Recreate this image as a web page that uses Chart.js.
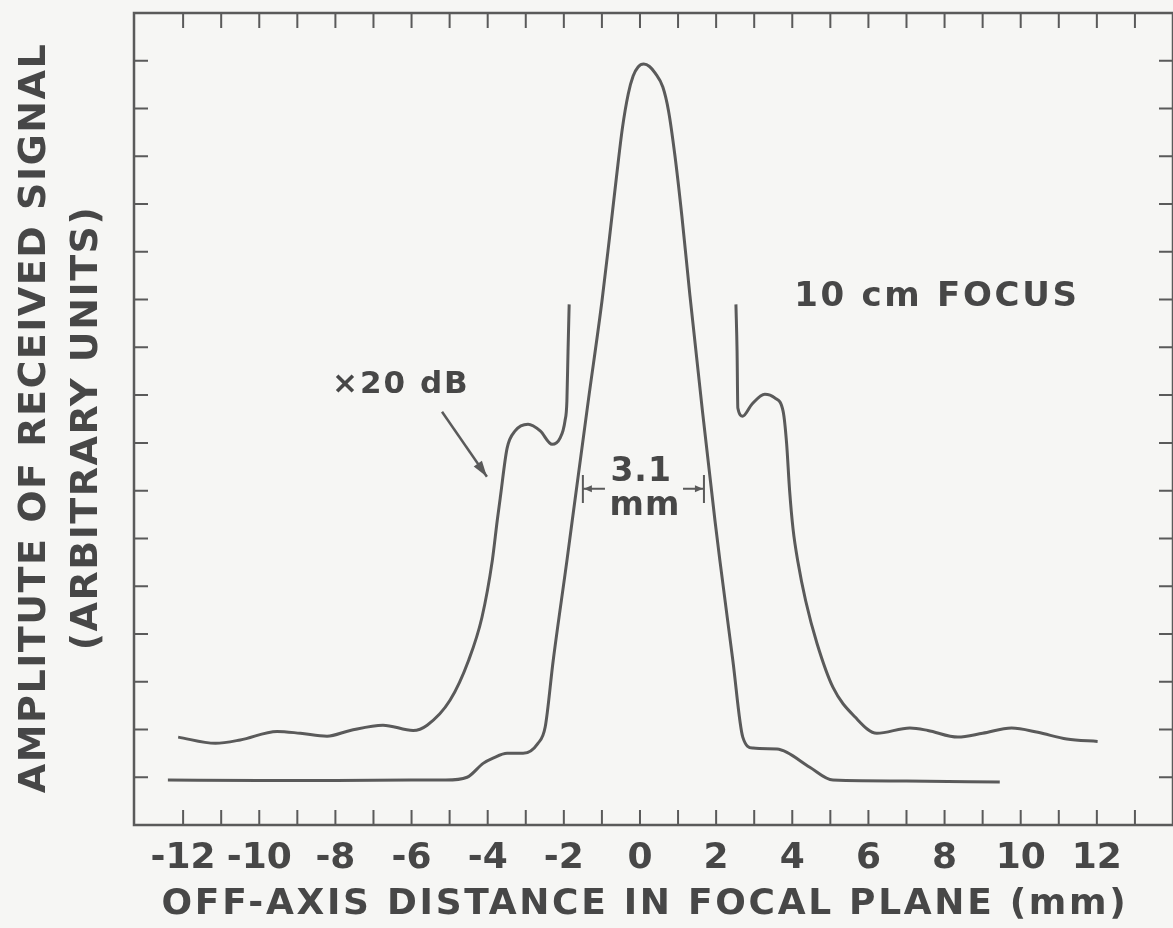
<!DOCTYPE html>
<html>
<head>
<meta charset="utf-8">
<script src="https://cdn.jsdelivr.net/npm/chart.js@4"></script>
<style>
    html, body { margin: 0; padding: 0; background: #f6f6f4; }
    #wrap { width: 1173px; height: 928px; }
</style>
</head>
<body>
<div id="wrap"><canvas id="beamChart" width="1173" height="928"></canvas></div>
<script>
// ═══ focal plane beam profile (10 cm focus) ═══

// main lobe, 0 dB
const mainX = [-12.4, -10.0, -8.0, -6.0, -5.1, -4.54, -4.12, -3.86, -3.49, -3.07, -2.68, -2.49, -2.28,
               -1.92, -1.78, -1.36, -1.0, -0.80, -0.62, -0.46, -0.31, -0.18, -0.05, 0.10, 0.25, 0.40,
               0.60, 0.75, 0.92, 1.10, 1.31, 1.64, 1.97, 2.10, 2.44, 2.70, 2.97, 3.60, 3.86, 4.46,
               5.07, 7.0, 9.45];
const mainY = [0.94, 0.93, 0.93, 0.94, 0.94, 1.0, 1.29, 1.40, 1.50, 1.50, 1.71, 2.05, 3.44,
               5.53, 6.37, 8.87, 10.96, 12.30, 13.55, 14.60, 15.30, 15.68, 15.87, 15.93, 15.88, 15.74,
               15.45, 14.95, 14.00, 12.75, 11.10, 8.67, 6.37, 5.53, 3.44, 1.84, 1.61, 1.59, 1.52, 1.21,
               0.94, 0.92, 0.90];

// x20 dB trace, left part
const sideLeftX = [-12.13, -11.15, -10.5, -9.53, -8.92, -8.22, -7.61, -6.75, -5.96, -5.59, -4.99, -4.5,
                   -4.15, -3.88, -3.75, -3.67, -3.49, -3.28, -2.94, -2.62, -2.31, -2.10, -1.97, -1.92,
                   -1.89, -1.86];
const sideLeftY = [1.84, 1.71, 1.78, 1.96, 1.92, 1.86, 1.98, 2.09, 1.98, 2.09, 2.61, 3.45,
                   4.35, 5.53, 6.37, 6.85, 7.89, 8.25, 8.39, 8.25, 7.97, 8.10, 8.46, 8.87,
                   9.92, 10.90];

// x20 dB trace, right part
const sideRightX = [2.52, 2.55, 2.57, 2.70, 2.94, 3.28, 3.54, 3.76, 3.85, 3.93, 4.02, 4.15, 4.35,
                    4.65, 5.07, 5.65, 6.22, 7.09, 7.56, 8.35, 9.00, 9.76, 10.45, 11.21, 12.02];
const sideRightY = [10.90, 9.92, 8.73, 8.56, 8.81, 9.02, 8.94, 8.66, 8.00, 7.00, 6.20, 5.50, 4.70,
                    3.80, 2.88, 2.26, 1.92, 2.03, 1.98, 1.84, 1.92, 2.03, 1.94, 1.80, 1.75];

const xTickMarks  = [-12, -11, -10, -9, -8, -7, -6, -5, -4, -3, -2, -1, 0,
                     1, 2, 3, 4, 5, 6, 7, 8, 9, 10, 11, 12, 13];
const xTickLabels = [-12, -10, -8, -6, -4, -2, 0, 2, 4, 6, 8, 10, 12];
const yTickMarks  = [1, 2, 3, 4, 5, 6, 7, 8, 9, 10, 11, 12, 13, 14, 15, 16];

const INK   = '#5a5a5a';
const TEXT  = '#474747';
const FONT  = '"DejaVu Sans", "Liberation Sans", sans-serif';

function toPoints(xs, ys) {
    return xs.map((x, i) => ({ x: x, y: ys[i] }));
}

function drawText(ctx, str, x, y, size, spacing, rot) {
    ctx.save();
    ctx.translate(x, y);
    if (rot) ctx.rotate(rot);
    ctx.font = 'bold ' + size + 'px ' + FONT;
    ctx.letterSpacing = spacing + 'px';
    ctx.fillStyle = TEXT;
    ctx.textAlign = 'center';
    ctx.textBaseline = 'middle';
    ctx.fillText(str, 0, 0);
    ctx.restore();
}

function arrowHead(ctx, x0, y0, x1, y1, len, wid) {
    const a = Math.atan2(y1 - y0, x1 - x0);
    ctx.beginPath();
    ctx.moveTo(x1, y1);
    ctx.lineTo(x1 - len * Math.cos(a) + wid * Math.sin(a), y1 - len * Math.sin(a) - wid * Math.cos(a));
    ctx.lineTo(x1 - len * Math.cos(a) - wid * Math.sin(a), y1 - len * Math.sin(a) + wid * Math.cos(a));
    ctx.closePath();
    ctx.fill();
}

// frame + inward ticks on all four sides
const framePlugin = {
    id: 'frame',
    beforeDatasetsDraw(chart) {
        const { ctx, chartArea: a, scales: { x, y } } = chart;
        ctx.save();
        ctx.strokeStyle = INK;
        ctx.lineWidth = 2.5;
        ctx.strokeRect(a.left, a.top, a.right - a.left, a.bottom - a.top);

        ctx.lineWidth = 2;
        ctx.beginPath();
        xTickMarks.forEach(v => {
            const px = x.getPixelForValue(v);
            ctx.moveTo(px, a.bottom); ctx.lineTo(px, a.bottom - 15);
            ctx.moveTo(px, a.top);    ctx.lineTo(px, a.top + 15);
        });
        yTickMarks.forEach(v => {
            const py = y.getPixelForValue(v);
            ctx.moveTo(a.left, py);  ctx.lineTo(a.left + 14, py);
            ctx.moveTo(a.right, py); ctx.lineTo(a.right - 14, py);
        });
        ctx.stroke();
        ctx.restore();
    }
};

// titles and annotations
const notesPlugin = {
    id: 'notes',
    afterDraw(chart) {
        const { ctx, scales: { x, y } } = chart;
        const X = v => x.getPixelForValue(v);
        const Y = v => y.getPixelForValue(v);

        drawText(ctx, 'AMPLITUTE OF RECEIVED SIGNAL', 35, 418, 38, 1.5, -Math.PI / 2);
        drawText(ctx, '(ARBITRARY UNITS)', 87, 428, 38, 1.5, -Math.PI / 2);
        drawText(ctx, 'OFF-AXIS DISTANCE IN FOCAL PLANE (mm)', 645, 905, 36, 2.7);

        drawText(ctx, '\u00d720 dB', X(-6.28), Y(9.21), 31, 2);
        drawText(ctx, '10 cm FOCUS', X(7.8), Y(11.06), 34, 2.7);
        drawText(ctx, '3.1', X(0.03), Y(7.39), 33, 1);
        drawText(ctx, 'mm', X(0.13), Y(6.66), 33, 1);

        ctx.save();
        ctx.strokeStyle = INK;
        ctx.fillStyle = INK;
        ctx.lineWidth = 2.5;

        // pointer to the x20 dB trace
        const ax0 = X(-5.2), ay0 = Y(8.65), ax1 = X(-4.02), ay1 = Y(7.29);
        ctx.beginPath();
        ctx.moveTo(ax0, ay0); ctx.lineTo(ax1, ay1);
        ctx.stroke();
        arrowHead(ctx, ax0, ay0, ax1, ay1, 16, 5);

        // 3.1 mm width marker
        ctx.lineWidth = 2;
        const yl = Y(7.04), l = X(-1.5), r = X(1.68);
        ctx.beginPath();
        ctx.moveTo(l, Y(7.33)); ctx.lineTo(l, Y(6.74));
        ctx.moveTo(r, Y(7.33)); ctx.lineTo(r, Y(6.74));
        ctx.moveTo(X(-0.92), yl); ctx.lineTo(l, yl);
        ctx.moveTo(X(1.13), yl);  ctx.lineTo(r, yl);
        ctx.stroke();
        arrowHead(ctx, X(-0.92), yl, l + 1, yl, 8, 3.5);
        arrowHead(ctx, X(1.13), yl, r - 1, yl, 8, 3.5);
        ctx.restore();
    }
};

const lineStyle = {
    borderColor: INK,
    borderWidth: 3,
    pointRadius: 0,
    fill: false,
    cubicInterpolationMode: 'monotone'
};

new Chart(document.getElementById('beamChart'), {
    type: 'line',
    data: {
        datasets: [
            { label: '0 dB',         data: toPoints(mainX, mainY),           ...lineStyle },
            { label: 'x20 dB left',  data: toPoints(sideLeftX, sideLeftY),   ...lineStyle },
            { label: 'x20 dB right', data: toPoints(sideRightX, sideRightY), ...lineStyle }
        ]
    },
    options: {
        responsive: false,
        animation: false,
        events: [],
        layout: { padding: { top: 13, right: 0, bottom: 0, left: 0 } },
        plugins: { legend: { display: false }, tooltip: { enabled: false } },
        scales: {
            x: {
                type: 'linear',
                min: -13.29,
                max: 14.0,
                grid: { display: false, drawTicks: false },
                border: { display: false },
                afterBuildTicks: s => { s.ticks = xTickMarks.map(v => ({ value: v })); },
                afterFit: s => { s.height = 103; },
                ticks: {
                    autoSkip: false,
                    maxRotation: 0,
                    padding: 12,
                    color: TEXT,
                    font: { family: FONT, size: 36, weight: 'bold' },
                    callback: v => xTickLabels.includes(v) ? String(v) : ''
                }
            },
            y: {
                type: 'linear',
                min: 0,
                max: 17,
                grid: { display: false, drawTicks: false },
                border: { display: false },
                afterBuildTicks: s => { s.ticks = yTickMarks.map(v => ({ value: v })); },
                afterFit: s => { s.width = 134; },
                ticks: { display: false }
            }
        }
    },
    plugins: [framePlugin, notesPlugin]
});
</script>
</body>
</html>
